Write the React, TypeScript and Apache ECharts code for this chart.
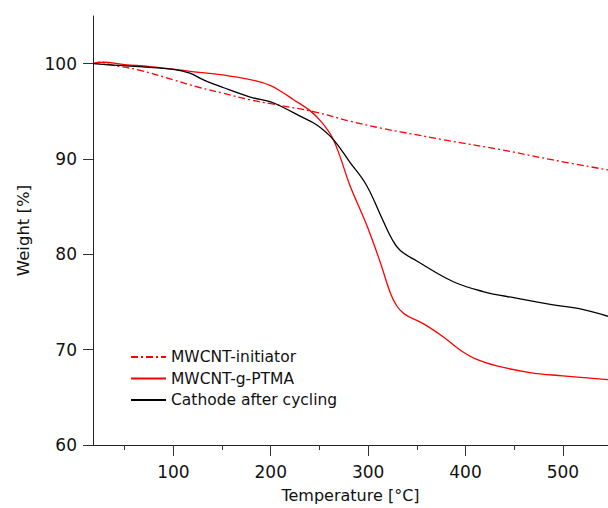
import React, { useEffect, useRef } from "react";
import * as echarts from "echarts";

const initiatorData: [number, number][] = [
  [17.5, 100], [25, 100.15], [35, 99.9], [66, 99.3], [100, 98.3], [127, 97.5], [151, 96.9],
  [179, 96.2], [200, 95.8], [247, 94.9], [280, 94.0], [315, 93.2], [333, 92.85], [384, 91.9],
  [435, 91.0], [490, 89.9], [546.3, 88.85],
];

const ptmaData: [number, number][] = [
  [17.5, 100], [28, 100.15], [50, 99.9], [76, 99.7], [117, 99.2], [158, 98.7], [185, 98.2],
  [200, 97.7], [212, 97.0], [223, 96.25], [240, 95.1], [252, 93.9], [263, 92.3], [271, 90.3],
  [281, 87.3], [298, 83.2], [312, 79.3], [323, 75.9], [330, 74.5], [336, 73.85], [343, 73.4],
  [357, 72.7], [377, 71.35], [394, 70.0], [411, 69.0], [432, 68.3], [466, 67.6], [500, 67.25],
  [546.3, 66.85],
];

const cathodeData: [number, number][] = [
  [17.5, 100], [30, 99.9], [49, 99.8], [100, 99.4], [117, 99.0], [131, 98.3], [151, 97.5],
  [179, 96.5], [200, 96.0], [213, 95.4], [230, 94.5], [247, 93.6], [261, 92.4], [270, 91.3],
  [281, 89.7], [298, 87.3], [315, 83.6], [325, 81.5], [333, 80.4], [350, 79.3], [387, 77.15],
  [418, 76.1], [452, 75.4], [487, 74.75], [521, 74.2], [546.3, 73.5],
];

const xMajorTicks = [100, 200, 300, 400, 500];
const xMinorTicks = [50, 150, 250, 350, 450];
const yTicks = [60, 70, 80, 90, 100];

const seriesNames = ["MWCNT-initiator", "MWCNT-g-PTMA", "Cathode after cycling"];

const FONT = "DejaVu Sans";

export default function App() {
  const ref = useRef<HTMLDivElement>(null);
  useEffect(() => {
    if (!ref.current) return;
    const chart = echarts.init(ref.current, undefined, { renderer: "svg" });
    const xMin = 17.5;
    const xMax = 546.3;
    chart.setOption({
      animation: false,
      backgroundColor: "#ffffff",
      grid: { left: 93, top: 16, width: 515, height: 432, containLabel: false },
      legend: {
        orient: "vertical",
        left: 125,
        top: 344,
        itemWidth: 35,
        itemHeight: 14,
        itemGap: 5.5,
        itemStyle: { opacity: 0 },
        textStyle: { fontFamily: FONT, fontSize: 15.5, color: "#111" },
        data: seriesNames,
      },
      xAxis: [
        {
          type: "value",
          min: xMin,
          max: xMax,
          position: "bottom",
          name: "Temperature [°C]",
          nameLocation: "middle",
          nameGap: 42,
          nameTextStyle: { fontFamily: FONT, fontSize: 16, color: "#111" },
          axisLine: { show: true, lineStyle: { color: "#222", width: 1 } },
          axisTick: { show: true, length: 11, inside: false, customValues: xMajorTicks, lineStyle: { color: "#333" } },
          axisLabel: { customValues: xMajorTicks, margin: 18, fontFamily: FONT, fontSize: 17, color: "#111" },
          splitLine: { show: false },
        },
        {
          type: "value",
          min: xMin,
          max: xMax,
          position: "bottom",
          axisLine: { show: false },
          axisTick: { show: true, length: 5, customValues: xMinorTicks, lineStyle: { color: "#333" } },
          axisLabel: { show: false },
          splitLine: { show: false },
        },
      ],
      yAxis: {
        type: "value",
        min: 60,
        max: 105,
        name: "Weight [%]",
        nameLocation: "middle",
        nameGap: 61,
        nameTextStyle: { fontFamily: FONT, fontSize: 16.5, color: "#111" },
        axisLine: { show: true, lineStyle: { color: "#222", width: 1 } },
        axisTick: { show: true, length: 10, customValues: yTicks, lineStyle: { color: "#333" } },
        axisLabel: { customValues: yTicks, margin: 16, fontFamily: FONT, fontSize: 17, color: "#111" },
        splitLine: { show: false },
      },
      series: [
        {
          name: seriesNames[0],
          type: "line",
          data: initiatorData,
          symbol: "none",
          smooth: 0.4,
          lineStyle: { color: "#ff0000", width: 1.3, type: [7, 3, 2, 3] },
          itemStyle: { color: "#ff0000" },
        },
        {
          name: seriesNames[1],
          type: "line",
          data: ptmaData,
          symbol: "none",
          smooth: 0.4,
          lineStyle: { color: "#ff0000", width: 1.3 },
          itemStyle: { color: "#ff0000" },
        },
        {
          name: seriesNames[2],
          type: "line",
          data: cathodeData,
          symbol: "none",
          smooth: 0.4,
          lineStyle: { color: "#000000", width: 1.3 },
          itemStyle: { color: "#000000" },
        },
      ],
    });
    return () => chart.dispose();
  }, []);
  return (
    <div
      ref={ref}
      style={{ position: "fixed", left: 0, top: 0, width: 608, height: 508 }}
    />
  );
}
